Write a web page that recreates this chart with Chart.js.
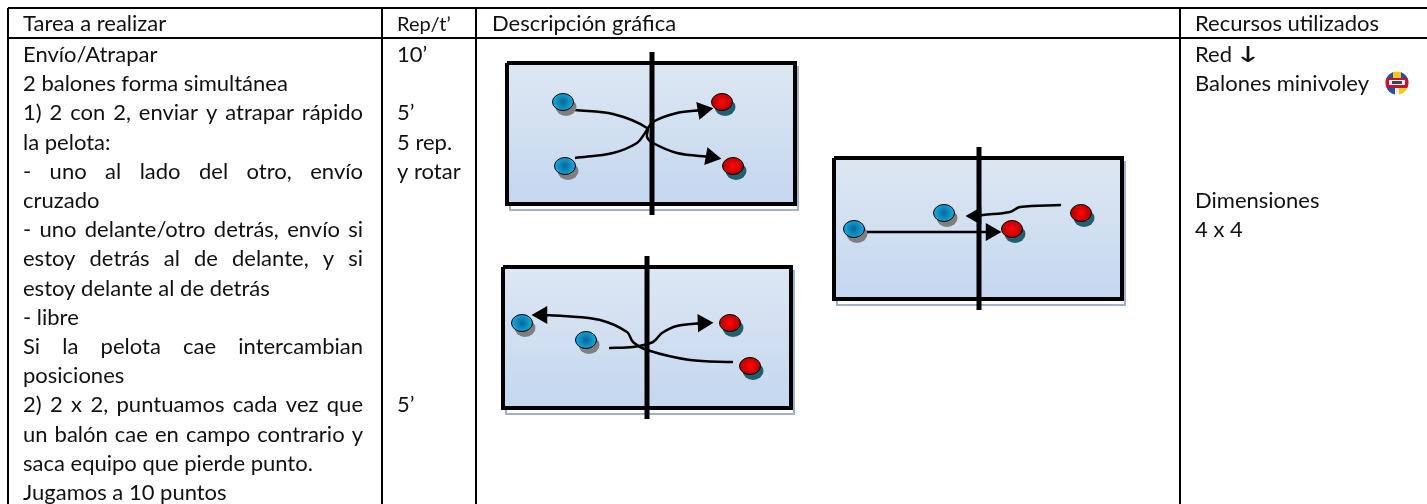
<!DOCTYPE html>
<html>
<head>
<meta charset="utf-8">
<script src="https://cdn.jsdelivr.net/npm/chart.js@4/dist/chart.umd.min.js"></script>
<style>
    html, body { margin: 0; padding: 0; background: #fff; }
    canvas { display: block; }
</style>
</head>
<body>
<canvas id="plan" width="1427" height="504"></canvas>
<script>
//! Table text
const headers = ['Tarea a realizar', 'Rep/t’', 'Descripción gráfica', 'Recursos utilizados'];
const taskLines = [
    'Envío/Atrapar',
    '2 balones forma simultánea',
    '1) 2 con 2, enviar y atrapar rápido',
    'la pelota:',
    '- uno al lado del otro, envío',
    'cruzado',
    '- uno delante/otro detrás, envío si',
    'estoy detrás al de delante, y si',
    'estoy delante al de detrás',
    '- libre',
    'Si la pelota cae intercambian',
    'posiciones',
    '2) 2 x 2, puntuamos cada vez que',
    'un balón cae en campo contrario y',
    'saca equipo que pierde punto.',
    'Jugamos a 10 puntos',
];
const justifiedRows = [2, 4, 6, 7, 10, 12, 13];
const repLines = [[0, '10’'], [2, '5’'], [3, '5 rep.'], [4, 'y rotar'], [12, '5’']];
const resourceLines = [[0, 'Red'], [1, 'Balones minivoley'], [5, 'Dimensiones'], [6, '4 x 4']];

//! Table grid
const tableColumns = [8, 382, 476, 1180];
const tableRows = [8, 38];
const tableRight = 1427;
const tableBottom = 504;

//! Courts: left, right, top, bottom, net x, net top, net bottom
const courts = [
    [507, 795, 63, 204, 652, 52, 215],
    [503, 791, 267, 408, 647, 256, 419],
    [834, 1122, 158, 299, 979, 147, 310],
];

//! Players
const bluePlayers = [
    { x: 563, y: 102 }, { x: 565, y: 166 },
    { x: 522, y: 323 }, { x: 586, y: 340 },
    { x: 854, y: 229 }, { x: 944, y: 213 },
];
const redPlayers = [
    { x: 722, y: 102 }, { x: 733, y: 166 },
    { x: 730, y: 323 }, { x: 750, y: 366 },
    { x: 1012, y: 229 }, { x: 1081, y: 213 },
];

//! Ball paths
const ballPaths = [
    [[575, 110], [613, 114], [647, 128], [647, 137], [653, 143], [677, 153], [711, 157]],
    [[575, 158], [613, 153], [637, 143], [645, 133], [653, 122], [677, 113], [703, 110]],
    [[733, 362], [690, 360], [647, 350], [633, 342], [627, 332], [600, 320], [563, 316], [542, 315]],
    [[609, 348], [633, 347], [653, 342], [662, 333], [677, 326], [703, 323]],
    [[854, 232], [991, 232]],
    [[1061, 205], [1020, 207], [1010, 212], [983, 215], [976, 216]],
];
const arrowHeads = [
    { x: 711, y: 157, angle: 100 },
    { x: 703, y: 110, angle: 80 },
    { x: 542, y: 315, angle: 270 },
    { x: 703, y: 323, angle: 88 },
    { x: 991, y: 232, angle: 90 },
    { x: 976, y: 216, angle: 270 },
];
const ballIcon = [{ x: 1397, y: 83 }];

const textFont = '22px Lato';

function makePlayer(outer, inner, shadow) {
    const c = document.createElement('canvas');
    c.width = 38;
    c.height = 38;
    const g = c.getContext('2d');
    g.fillStyle = shadow;
    g.beginPath();
    g.ellipse(22, 24, 10.5, 9, 0, 0, Math.PI * 2);
    g.fill();
    const grad = g.createRadialGradient(19, 19, 1, 19, 19, 10.5);
    grad.addColorStop(0, inner);
    grad.addColorStop(1, outer);
    g.fillStyle = grad;
    g.strokeStyle = '#000';
    g.lineWidth = 1;
    g.beginPath();
    g.ellipse(19, 19, 10.5, 8.5, 0, 0, Math.PI * 2);
    g.fill();
    g.stroke();
    return c;
}

function makeBall() {
    const c = document.createElement('canvas');
    c.width = 26;
    c.height = 26;
    const g = c.getContext('2d');
    g.save();
    g.beginPath();
    g.arc(13, 13, 11.5, 0, Math.PI * 2);
    g.clip();
    g.fillStyle = '#f7f3e4';
    g.fillRect(0, 0, 26, 26);
    g.fillStyle = '#f2c81e';
    g.fillRect(9, 0, 8, 8);
    g.fillRect(15, 18, 11, 8);
    g.fillStyle = '#2450a8';
    g.fillRect(0, 2, 9, 7);
    g.fillRect(17, 2, 9, 7);
    g.fillRect(2, 18, 9, 8);
    g.fillStyle = '#c8102e';
    g.fillRect(0, 8, 26, 10);
    g.fillStyle = '#fff';
    g.fillRect(5, 10, 16, 5);
    g.fillStyle = '#444';
    g.fillRect(8, 11, 10, 3);
    g.restore();
    return c;
}

function toPoints(path) {
    return path.map(p => ({ x: p[0], y: p[1] }));
}

function rectPoints(l, r, t, b) {
    return [{ x: l, y: t }, { x: r, y: t }, { x: r, y: b }, { x: l, y: b }, { x: l, y: t }];
}

function lineSet(data, color, width, extra) {
    return Object.assign({
        type: 'line',
        data: data,
        borderColor: color,
        borderWidth: width,
        pointRadius: 0,
        fill: false,
        tension: 0,
    }, extra || {});
}

function courtFill(top, bottom) {
    return (ctx) => {
        const y = ctx.chart.scales.y;
        const y0 = y ? y.getPixelForValue(top) : NaN;
        const y1 = y ? y.getPixelForValue(bottom) : NaN;
        if (!Number.isFinite(y0) || !Number.isFinite(y1)) return '#d0dff0';
        const g = ctx.chart.ctx.createLinearGradient(0, y0, 0, y1);
        g.addColorStop(0, '#dde7f3');
        g.addColorStop(1, '#c4d7ef');
        return g;
    };
}

// drawing order, the list gets reversed below because Chart.js paints the first dataset last
const drawList = [];

tableColumns.forEach(x => {
    drawList.push(lineSet([{ x: x, y: tableRows[0] }, { x: x, y: tableBottom }], '#000', 2));
});
tableRows.forEach(y => {
    drawList.push(lineSet([{ x: tableColumns[0], y: y }, { x: tableRight, y: y }], '#000', 2));
});

courts.forEach(([l, r, t, b, netX, netTop, netBottom]) => {
    drawList.push(lineSet(rectPoints(l + 3, r + 3, t + 4, b + 6), '#a3b1c6', 2, { fill: 'shape', backgroundColor: '#fff' }));
    drawList.push(lineSet(rectPoints(l, r, t, b), '#000', 4, { fill: 'shape', backgroundColor: courtFill(t, b) }));
});

ballPaths.forEach(path => {
    drawList.push(lineSet(toPoints(path), '#000', 2.5, { tension: 0.35 }));
});

courts.forEach(([l, r, t, b, netX, netTop, netBottom]) => {
    drawList.push(lineSet([{ x: netX, y: netTop }, { x: netX, y: netBottom }], '#000', 5));
});

drawList.push({
    type: 'scatter',
    data: arrowHeads,
    pointStyle: 'triangle',
    pointRadius: 10.5,
    pointRotation: arrowHeads.map(a => a.angle),
    pointBackgroundColor: '#000',
    pointBorderWidth: 0,
});
drawList.push({
    type: 'scatter',
    data: bluePlayers,
    pointStyle: makePlayer('#12aee6', '#0a6d9c', '#7f7f7f'),
});
drawList.push({
    type: 'scatter',
    data: redPlayers,
    pointStyle: makePlayer('#a80000', '#ff0606', '#215f70'),
});
drawList.push({
    type: 'scatter',
    data: ballIcon,
    pointStyle: makeBall(),
});

//! Table text is placed through the same scales as the marks
const tableText = {
    id: 'tableText',
    afterDatasetsDraw(chart) {
        const { ctx, scales } = chart;
        const rowY = (row) => scales.y.getPixelForValue(62 + row * 29.2);
        const put = (text, x, y) => ctx.fillText(text, scales.x.getPixelForValue(x), y);
        ctx.save();
        ctx.font = textFont;
        ctx.fillStyle = '#111';
        ctx.textBaseline = 'alphabetic';

        const headerY = scales.y.getPixelForValue(31);
        put(headers[0], 23, headerY);
        put(headers[2], 492, headerY);
        put(headers[3], 1195, headerY);
        ctx.font = '20px Lato';
        put(headers[1], 397, headerY);
        ctx.font = textFont;

        taskLines.forEach((line, i) => {
            ctx.wordSpacing = '0px';
            if (justifiedRows.includes(i)) {
                const gaps = line.split(' ').length - 1;
                const extra = (340 - ctx.measureText(line).width) / gaps;
                ctx.wordSpacing = extra + 'px';
            }
            put(line, 23, rowY(i));
        });
        ctx.wordSpacing = '0px';

        repLines.forEach(([row, text]) => put(text, 397, rowY(row)));
        resourceLines.forEach(([row, text]) => put(text, 1195, rowY(row)));

        // the original arrow is a wide wingding, so stretch the glyph sideways
        ctx.font = '22px "DejaVu Sans"';
        ctx.textAlign = 'center';
        ctx.translate(scales.x.getPixelForValue(1248), rowY(0) - 0.5);
        ctx.scale(1.5, 1);
        ctx.fillText('↓', 0, 0);
        ctx.restore();
    }
};

new Chart(document.getElementById('plan').getContext('2d'), {
    data: { datasets: drawList.reverse() },
    options: {
        responsive: false,
        animation: false,
        events: [],
        layout: { padding: 0, autoPadding: false },
        scales: {
            x: { type: 'linear', min: 0, max: 1427, display: false },
            y: { type: 'linear', min: 0, max: 504, reverse: true, display: false },
        },
        plugins: {
            legend: { display: false },
            tooltip: { enabled: false },
        },
    },
    plugins: [tableText],
});
</script>
</body>
</html>
